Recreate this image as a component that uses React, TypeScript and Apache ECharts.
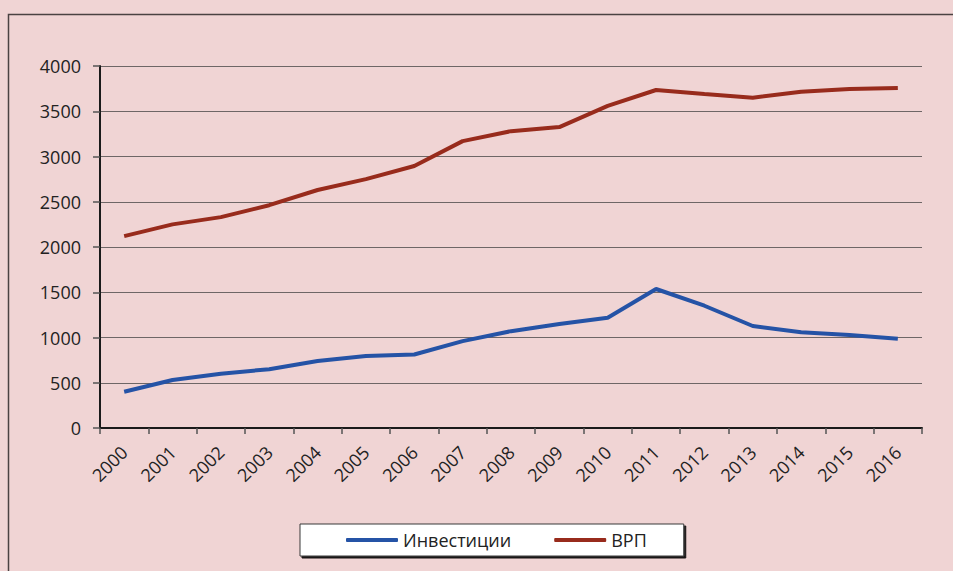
import React, { useEffect, useRef } from "react";
import * as echarts from "echarts";

const years = ["2000","2001","2002","2003","2004","2005","2006","2007","2008","2009","2010","2011","2012","2013","2014","2015","2016"];
const investments = [400, 530, 600, 650, 740, 795, 812, 960, 1070, 1150, 1219, 1536, 1351, 1127, 1057, 1027, 987];
const grp = [2120, 2250, 2330, 2462, 2630, 2750, 2895, 3170, 3280, 3325, 3560, 3735, 3690, 3650, 3716, 3745, 3757];
const seriesNames = ["Инвестиции", "ВРП"];

export default function App() {
  const ref = useRef<HTMLDivElement>(null);
  useEffect(() => {
    document.body.style.margin = "0";
    const chart = echarts.init(ref.current!, null, { renderer: "svg" });
    const font = "'Open Sans', 'Noto Sans', sans-serif";
    chart.setOption({
      animation: false,
      backgroundColor: "#f0d4d4",
      textStyle: { fontFamily: font },
      graphic: [
        {
          type: "rect",
          shape: { x: 8.5, y: 14.5, width: 1000, height: 600 },
          style: { fill: "none", stroke: "#4a4242", lineWidth: 1.5 },
          silent: true,
        },
      ],
      grid: { left: 100, right: 31, top: 66, bottom: 143, containLabel: false },
      legend: {
        bottom: 15,
        left: 300,
        data: seriesNames,
        icon: "roundRect",
        itemWidth: 52,
        itemHeight: 4,
        itemGap: 43,
        padding: [7, 37, 7, 46],
        backgroundColor: "#ffffff",
        borderColor: "#3a3a3a",
        borderWidth: 1,
        shadowColor: "rgba(0,0,0,0.9)",
        shadowBlur: 0,
        shadowOffsetX: 2,
        shadowOffsetY: 2,
        textStyle: { fontFamily: font, fontSize: 18, color: "#222" },
      },
      xAxis: {
        type: "category",
        data: years,
        boundaryGap: true,
        axisLine: { lineStyle: { color: "#1a1a1a", width: 2 } },
        axisTick: { show: true, length: 6, lineStyle: { color: "#555", width: 1.5 } },
        axisLabel: { rotate: 45, margin: 21, fontSize: 18, color: "#222", fontFamily: font, interval: 0 },
        splitLine: { show: false },
      },
      yAxis: {
        type: "value",
        min: 0,
        max: 4000,
        interval: 500,
        axisLine: { show: true, lineStyle: { color: "#1a1a1a", width: 2 } },
        axisTick: { show: true, length: 7, lineStyle: { color: "#555", width: 1.5 } },
        axisLabel: { margin: 19, fontSize: 18, color: "#222", fontFamily: font, formatter: (v: number) => String(v) },
        splitLine: { show: true, lineStyle: { color: "#6e6666", width: 1 } },
      },
      series: [
        {
          name: seriesNames[0],
          type: "line",
          data: investments,
          showSymbol: false,
          symbol: "none",
          lineStyle: { color: "#2553a6", width: 4 },
          itemStyle: { color: "#2553a6" },
        },
        {
          name: seriesNames[1],
          type: "line",
          data: grp,
          showSymbol: false,
          symbol: "none",
          lineStyle: { color: "#982b1c", width: 4 },
          itemStyle: { color: "#982b1c" },
        },
      ],
    });
    return () => chart.dispose();
  }, []);
  return <div ref={ref} style={{ width: 953, height: 571 }} />;
}
